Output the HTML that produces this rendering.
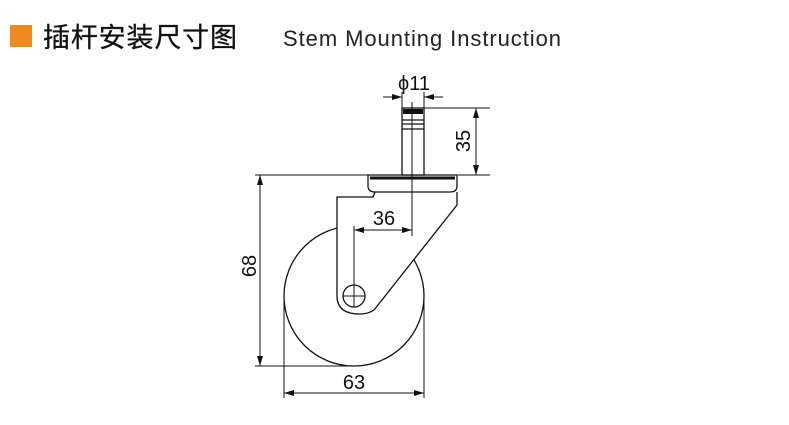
<!DOCTYPE html>
<html><head><meta charset="utf-8"><style>
html,body{margin:0;padding:0;background:#fff;width:789px;height:425px;overflow:hidden}
</style></head><body>
<svg width="789" height="425" viewBox="0 0 789 425" xmlns="http://www.w3.org/2000/svg">
<rect x="10" y="25" width="22" height="22" fill="#ef8a1f"/>
<text x="43" y="47" font-family="Liberation Sans, Noto Sans CJK SC, sans-serif" font-size="27" fill="#111" stroke="#111" stroke-width="0.3" textLength="194">插杆安装尺寸图</text>
<text x="283" y="46" font-family="Liberation Sans, sans-serif" font-size="22" fill="#222" textLength="278">Stem Mounting Instruction</text>
<defs>
<marker id="a" viewBox="0 0 10 6" refX="10" refY="3" markerWidth="10" markerHeight="6" orient="auto-start-reverse" markerUnits="userSpaceOnUse"><path d="M0,0 L10,3 L0,6 z" fill="#111"/></marker>
</defs>
<g fill="none" stroke="#111" stroke-width="1.3">
<circle cx="354" cy="296" r="70"/>
<path d="M337,197 L373,197 L375,192 L457,192 L457,205 L374,310 Q368,314 360,314 Q337,314 337,296 Z" fill="#fff" stroke="none"/>
<path d="M337,296 L337,197 L373,197 L375,192"/>
<path d="M457,192 L457,205 L374,310 Q368,314 360,314 Q337,314 337,296"/>
<circle cx="354" cy="296" r="11"/>
<line x1="343" y1="296" x2="365" y2="296" stroke-width="1"/>
<line x1="354" y1="285" x2="354" y2="307" stroke-width="1"/>
<path d="M368,175 L457,175 L457,186 Q457,192 450,192 L375,192 Q368,192 368,186 Z" fill="#fff"/>
<line x1="370" y1="178" x2="455" y2="178" stroke-width="3"/>
<rect x="402" y="108" width="22" height="67" fill="#fff"/>
<rect x="403" y="109" width="20" height="5" fill="#111" stroke="none"/>
<line x1="402" y1="120" x2="424" y2="120"/>
<line x1="402" y1="124" x2="424" y2="124"/>
<line x1="402" y1="129" x2="424" y2="129"/>
<line x1="412" y1="102" x2="412" y2="236" stroke-width="1"/>
</g>
<g fill="none" stroke="#111" stroke-width="1">
<line x1="255" y1="175" x2="400" y2="175"/>
<line x1="255" y1="366" x2="355" y2="366"/>
<line x1="260" y1="175" x2="260" y2="366" marker-start="url(#a)" marker-end="url(#a)"/>
<line x1="284" y1="296" x2="284" y2="398"/>
<line x1="424" y1="296" x2="424" y2="398"/>
<line x1="284" y1="393" x2="424" y2="393" marker-start="url(#a)" marker-end="url(#a)"/>
<line x1="354" y1="230" x2="412" y2="230" marker-start="url(#a)" marker-end="url(#a)"/>
<line x1="354" y1="226" x2="354" y2="285"/>
<line x1="412" y1="108" x2="490" y2="108"/>
<line x1="458" y1="175" x2="490" y2="175"/>
<line x1="476" y1="108" x2="476" y2="175" marker-start="url(#a)" marker-end="url(#a)"/>
<line x1="402" y1="92" x2="402" y2="108"/>
<line x1="424" y1="92" x2="424" y2="108"/>
<line x1="383" y1="97" x2="402" y2="97" marker-end="url(#a)"/>
<line x1="443" y1="97" x2="424" y2="97" marker-end="url(#a)"/>
</g>
<g font-family="Liberation Sans, DejaVu Sans, sans-serif" font-size="20" fill="#111" text-anchor="middle">
<text x="414" y="90">ϕ11</text>
<text x="384" y="225">36</text>
<text x="354" y="389">63</text>
<text transform="translate(256,266) rotate(-90)">68</text>
<text transform="translate(470,141) rotate(-90)">35</text>
</g>
</svg>
</body></html>
